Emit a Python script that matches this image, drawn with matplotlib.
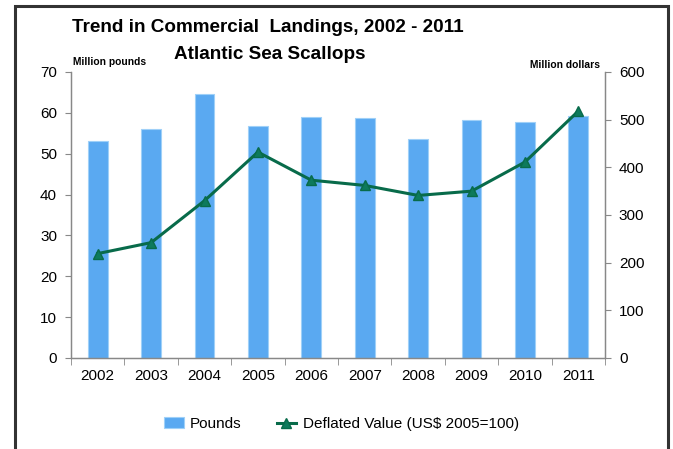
import matplotlib
matplotlib.use("Agg")
import matplotlib.pyplot as plt
from matplotlib.patches import Rectangle

plt.rcParams['font.family'] = ['Liberation Sans', 'DejaVu Sans']

years = ['2002', '2003', '2004', '2005', '2006', '2007', '2008', '2009', '2010', '2011']
pounds = [53.1, 56.0, 64.6, 56.7, 59.0, 58.7, 53.6, 58.2, 57.7, 59.2]
deflated_value = [219, 242, 330, 432, 373, 362, 341, 350, 411, 518]

fig = plt.figure(figsize=(6.73, 4.49), dpi=100)
ax = fig.add_axes([0.1055, 0.2027, 0.7935, 0.637])
ax2 = ax.twinx()

x = list(range(len(years)))
bars = ax.bar(x, pounds, width=0.37, color='#5AA9F1', edgecolor='#9FD0F8',
              linewidth=0.8, label='Pounds', zorder=2)
line, = ax2.plot(x, deflated_value, color='#086B4A', linewidth=2.2, marker='^',
                 markersize=7, markerfacecolor='#0E7A5C', markeredgecolor='#086B4A',
                 label='Deflated Value (US$ 2005=100)')

ax.set_xlim(-0.5, len(years) - 0.5)
ax.set_ylim(0, 70)
ax2.set_ylim(0, 600)
ax.set_yticks(range(0, 71, 10))
ax2.set_yticks(range(0, 601, 100))

ax.set_xticks(x)
ax.set_xticklabels(years)
ax.set_xticks([i - 0.5 for i in range(len(years) + 1)], minor=True)
ax.tick_params(axis='x', which='major', length=0, pad=8, labelsize=11)
ax.tick_params(axis='x', which='minor', length=5, color='#888888', direction='out')
ax.tick_params(axis='y', length=4, color='#888888', labelsize=11, pad=6)
ax2.tick_params(axis='y', length=4, color='#888888', labelsize=11, pad=6)

for a in (ax, ax2):
    a.spines['top'].set_visible(False)
    for s in ('left', 'right', 'bottom'):
        a.spines[s].set_color('#888888')
        a.spines[s].set_linewidth(0.9)

fig.text(0.398, 0.939, 'Trend in Commercial  Landings, 2002 - 2011', ha='center', va='center',
         fontsize=13.6, fontweight='bold')
fig.text(0.401, 0.879, 'Atlantic Sea Scallops', ha='center', va='center',
         fontsize=13.6, fontweight='bold')
fig.text(0.109, 0.862, 'Million pounds', ha='left', va='center', fontsize=7.4, fontweight='bold')
fig.text(0.891, 0.855, 'Million dollars', ha='right', va='center', fontsize=7.4, fontweight='bold')

fig.legend(handles=[bars, line], loc='center', bbox_to_anchor=(0.507, 0.056), ncol=2,
           frameon=False, fontsize=11, handlelength=1.3, columnspacing=2.3,
           handletextpad=0.4)

fig.patches.append(Rectangle((15 / 673, -0.05), 653 / 673, 1.05 - 6 / 449, transform=fig.transFigure,
                             fill=False, edgecolor='#333333', linewidth=2.2))

fig.savefig('out.png', dpi=100)
